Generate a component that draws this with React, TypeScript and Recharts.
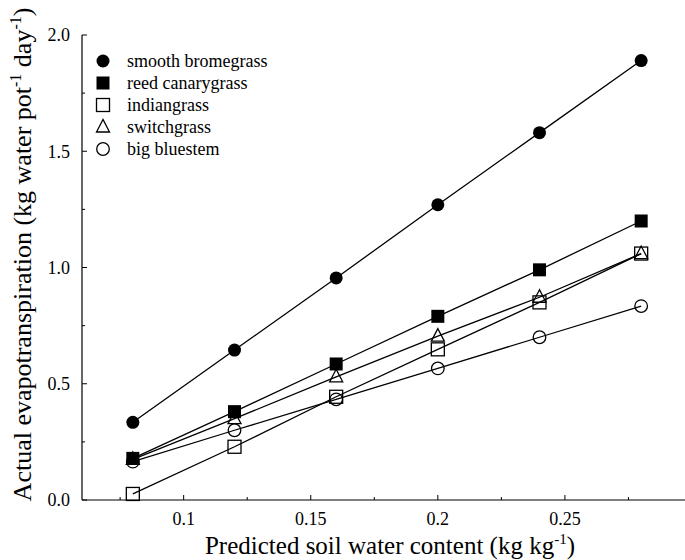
import React from "react";
import { LineChart, Line, XAxis, YAxis, Label } from "recharts";

const soilWater = [0.08, 0.12, 0.16, 0.2, 0.24, 0.28];
const smoothBromegrass = [0.334, 0.645, 0.955, 1.27, 1.58, 1.89];
const reedCanarygrass = [0.179, 0.38, 0.585, 0.79, 0.99, 1.2];
const indiangrass = [0.026, 0.229, 0.444, 0.648, 0.85, 1.06];
const switchgrass = [0.175, 0.35, 0.53, 0.705, 0.872, 1.06];
const bigBluestem = [0.165, 0.3, 0.433, 0.566, 0.7, 0.834];

const seriesNames = ["smooth bromegrass", "reed canarygrass", "indiangrass", "switchgrass", "big bluestem"];
const seriesKeys = ["smooth", "reed", "indian", "switch", "bluestem"];
const seriesShapes = ["filledCircle", "filledSquare", "openSquare", "openTriangle", "openCircle"];

const xMajorTicks = [0.1, 0.15, 0.2, 0.25];
const xMinorTicks = [0.075, 0.125, 0.175, 0.225, 0.275];
const yMajorTicks = [0, 0.5, 1, 1.5, 2];
const yMinorTicks = [0.25, 0.75, 1.25, 1.75];

const rows = soilWater.map((x, i) => ({
  x,
  smooth: smoothBromegrass[i],
  reed: reedCanarygrass[i],
  indian: indiangrass[i],
  switch: switchgrass[i],
  bluestem: bigBluestem[i],
}));

const xTicks = [...xMajorTicks, ...xMinorTicks].sort((a, b) => a - b);
const yTicks = [...yMajorTicks, ...yMinorTicks].sort((a, b) => a - b);

const FONT = "'Liberation Serif', 'Times New Roman', Times, serif";

function Marker({ cx, cy, shape }: { cx: number; cy: number; shape: string }) {
  const sw = 1.3;
  switch (shape) {
    case "filledCircle":
      return <circle cx={cx} cy={cy} r={6.5} fill="#000" />;
    case "filledSquare":
      return <rect x={cx - 6.5} y={cy - 6.5} width={13} height={13} fill="#000" />;
    case "openSquare":
      return <rect x={cx - 6.5} y={cy - 6.5} width={13} height={13} fill="none" stroke="#000" strokeWidth={sw} />;
    case "openTriangle":
      return (
        <polygon
          points={`${cx},${cy - 7.5} ${cx - 6.5},${cy + 5} ${cx + 6.5},${cy + 5}`}
          fill="none"
          stroke="#000"
          strokeWidth={sw}
        />
      );
    default:
      return <circle cx={cx} cy={cy} r={6.3} fill="none" stroke="#000" strokeWidth={sw} />;
  }
}

function XTick(props: any) {
  const { x, y, payload, top } = props;
  const major = xMajorTicks.includes(payload.value);
  const len = major ? 5 : 3;
  return (
    <g>
      <line x1={x} y1={y} x2={x} y2={top ? y + len : y - len} stroke="#000" strokeWidth={1} />
      {!top && major && (
        <text x={x} y={y + 25} textAnchor="middle" fontSize={18} fontFamily={FONT} fill="#000">
          {String(payload.value)}
        </text>
      )}
    </g>
  );
}

function YTick(props: any) {
  const { x, y, payload } = props;
  const major = yMajorTicks.includes(payload.value);
  const len = major ? 5 : 3;
  return (
    <g>
      <line x1={x} y1={y} x2={x + len} y2={y} stroke="#000" strokeWidth={1} />
      {major && (
        <text x={x - 12} y={y} dy="0.35em" textAnchor="end" fontSize={18} fontFamily={FONT} fill="#000">
          {payload.value.toFixed(1)}
        </text>
      )}
    </g>
  );
}

function XTitle(props: any) {
  const vb = props.viewBox || { x: 82, y: 500, width: 610, height: 30 };
  const cx = vb.x + vb.width / 2 + 3;
  const cy = vb.y + 54;
  return (
    <text x={cx} y={cy} textAnchor="middle" fontSize={25} fontFamily={FONT} fill="#000">
      Predicted soil water content (kg kg
      <tspan dy={-10} fontSize={15}>-1</tspan>
      <tspan dy={10}>)</tspan>
    </text>
  );
}

function YTitle(props: any) {
  const vb = props.viewBox || { x: 22, y: 35, width: 60, height: 465 };
  const cx = vb.x + 9;
  const cy = vb.y + vb.height / 2 - 13;
  return (
    <text
      x={cx}
      y={cy}
      transform={`rotate(-90 ${cx} ${cy})`}
      textAnchor="middle"
      fontSize={26}
      fontFamily={FONT}
      fill="#000"
    >
      Actual evapotranspiration (kg water pot
      <tspan dy={-10} fontSize={16}>-1</tspan>
      <tspan dy={10}>{"  day"}</tspan>
      <tspan dy={-10} fontSize={16}>-1</tspan>
      <tspan dy={10}>)</tspan>
    </text>
  );
}

export default function App() {
  return (
    <div
      style={{
        position: "absolute",
        left: 0,
        top: 0,
        width: 685,
        height: 560,
        overflow: "hidden",
        background: "#fff",
      }}
    >
      <LineChart width={710} height={560} data={rows} margin={{ top: 35, right: 18, bottom: 30, left: 22 }}>
        <XAxis
          xAxisId="bottom"
          dataKey="x"
          type="number"
          domain={[0.06, 0.3]}
          ticks={xTicks}
          interval={0}
          height={30}
          tickSize={0}
          tickMargin={0}
          tickLine={false}
          axisLine={{ stroke: "#000", strokeWidth: 1.2 }}
          tick={<XTick />}
        >
          <Label content={<XTitle />} />
        </XAxis>
        <XAxis
          xAxisId="top"
          orientation="top"
          dataKey="x"
          type="number"
          domain={[0.06, 0.3]}
          ticks={xTicks}
          interval={0}
          height={0}
          tickSize={0}
          tickMargin={0}
          tickLine={false}
          axisLine={{ stroke: "#000", strokeWidth: 1.2 }}
          tick={<XTick top />}
        />
        <YAxis
          yAxisId="left"
          type="number"
          domain={[0, 2]}
          ticks={yTicks}
          interval={0}
          width={60}
          tickSize={0}
          tickMargin={0}
          tickLine={false}
          axisLine={{ stroke: "#000", strokeWidth: 1.2 }}
          tick={<YTick />}
        >
          <Label content={<YTitle />} />
        </YAxis>
        {seriesKeys.map((key, si) => (
          <Line
            key={key}
            xAxisId="bottom"
            yAxisId="left"
            dataKey={key}
            type="linear"
            stroke="#000"
            strokeWidth={1.3}
            isAnimationActive={false}
            dot={(p: any) => <Marker key={`${key}-${p.index}`} cx={p.cx} cy={p.cy} shape={seriesShapes[si]} />}
            activeDot={false}
          />
        ))}
      </LineChart>
      <div style={{ position: "absolute", left: 92, top: 50, fontFamily: FONT, fontSize: 18, color: "#000" }}>
        {seriesNames.map((name, i) => (
          <div key={name} style={{ display: "flex", alignItems: "center", height: 22 }}>
            <svg width={22} height={22}>
              <Marker cx={11} cy={11} shape={seriesShapes[i]} />
            </svg>
            <span style={{ marginLeft: 13, lineHeight: "22px" }}>{name}</span>
          </div>
        ))}
      </div>
    </div>
  );
}
